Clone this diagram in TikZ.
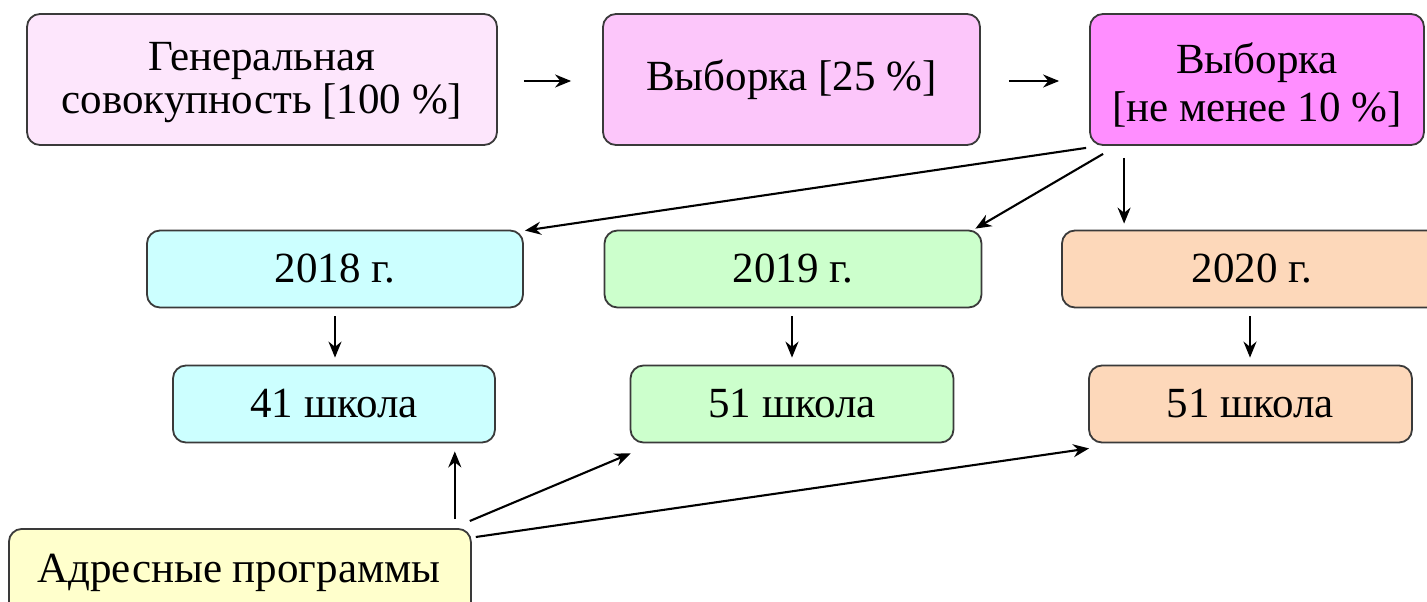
\documentclass[tikz,border=0pt]{standalone}
\usepackage{fontspec}
\setmainfont{Liberation Serif}
\newfontfamily\tnr{Liberation Serif}
\usetikzlibrary{arrows.meta,calc}
\definecolor{cgen}{HTML}{FDE6FC}
\definecolor{cv25}{HTML}{FCC6FA}
\definecolor{cv10}{HTML}{FF8EFF}
\definecolor{ccyan}{HTML}{CCFFFF}
\definecolor{cgreen}{HTML}{CCFFCC}
\definecolor{cpeach}{HTML}{FDD8BA}
\definecolor{cyel}{HTML}{FFFFCC}
\definecolor{cedge}{HTML}{3A3A3A}
\tikzset{
  txt/.style={font=\tnr\fontsize{43}{43}\selectfont, inner sep=0pt, align=center},
  box/.style={draw=cedge, line width=1.8pt, rounded corners=13pt, inner sep=0pt,
    align=center, txt},
  conn/.style={line width=2.1pt, -{Stealth[length=16pt,width=13pt]}}
}
\begin{document}
\begin{tikzpicture}[x=1pt,y=-1pt]
\useasboundingbox (0,0) rectangle (1427,602);
\clip (0,0) rectangle (1427,602);
\fill[white] (0,0) rectangle (1427,602);
% top row
\node[box, fill=cgen, minimum width=470pt, minimum height=131pt] (gen) at (262,79.5) {};
\node[txt] (gent) at ($(gen.center)+(0,3)$) {Генеральная\\совокупность [100 \%]};
\node[box, fill=cv25, minimum width=377pt, minimum height=131pt] (v25) at (791.5,79.5) {Выборка [25 \%]};
\node[box, fill=cv10, minimum width=334pt, minimum height=131pt] (v10) at (1257,79.5) {};
\node[txt, font=\tnr\fontsize{43}{48}\selectfont] (v10t) at ($(v10.center)+(0,5)$) {Выборка\\{}[не менее 10 \%]};
% years
\node[box, fill=ccyan, minimum width=376pt, minimum height=77pt] (y18) at (335,269) {2018 г.};
\node[box, fill=cgreen, minimum width=377pt, minimum height=77pt] (y19) at (793,269) {2019 г.};
\node[box, fill=cpeach, minimum width=380pt, minimum height=77pt] (y20) at (1252,269) {2020 г.};
% schools
\node[box, fill=ccyan, minimum width=322pt, minimum height=77pt] (s18) at (334,404) {41 школа};
\node[box, fill=cgreen, minimum width=323pt, minimum height=77pt] (s19) at (792,404) {51 школа};
\node[box, fill=cpeach, minimum width=323pt, minimum height=77pt] (s20) at (1250.5,404) {51 школа};
% programs
\node[box, fill=cyel, minimum width=462pt, minimum height=90pt, anchor=north west] (adr) at (8,528) {};
\node[txt, anchor=base] (adrt) at (239,582) {Адресные программы};
% connectors
\draw[conn, shorten <=26pt, shorten >=31pt] ([yshift=-1.5]gen.east) -- ([yshift=-1.5]v25.west);
\draw[conn, shorten <=28pt, shorten >=30pt] ([yshift=-1.5]v25.east) -- ([yshift=-1.5]v10.west);
\draw[conn] ($(v10.south west)+(-3,2)$) -- ($(y18.north east)+(1,1)$);
\draw[conn] ($(v10.south west)+(14,8)$) -- ($(y19.north east)+(-7,-1)$);
\draw[conn] ($(v10.south west)+(35,12)$) -- ($(v10.south west |- y20.north)+(35,-6)$);
\draw[conn, shorten <=8pt, shorten >=7pt] (y18.south) -- (y18.south |- s18.north);
\draw[conn, shorten <=8pt, shorten >=7pt] ([xshift=-1]y19.south) -- ([xshift=-1]y19.south |- s19.north);
\draw[conn, shorten <=8pt, shorten >=7pt] ([xshift=-2]y20.south) -- ([xshift=-2]y20.south |- s20.north);
\coordinate (c1) at ($(adr.north east)+(-17,-9)$);
\draw[conn, shorten >=8pt] (c1) -- (c1 |- s18.south);
\draw[conn] ($(adr.north east)+(-2,-7)$) -- ($(s19.south west)+(1,10)$);
\draw[conn] ($(adr.north east)+(4,9)$) -- ($(s20.south west)+(1,5)$);
\end{tikzpicture}
\end{document}
